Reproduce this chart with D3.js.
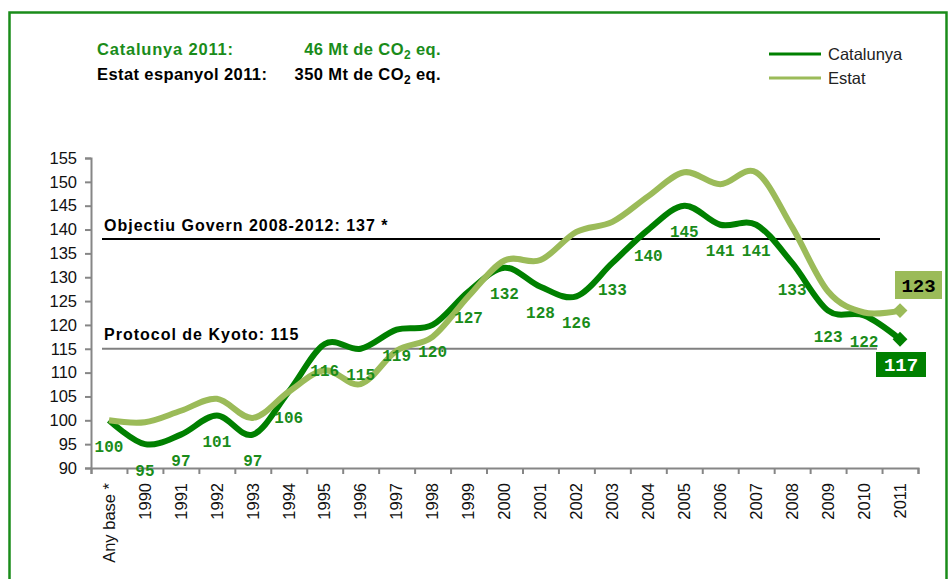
<!DOCTYPE html>
<html>
<head>
<meta charset="utf-8">
<script src="https://cdn.jsdelivr.net/npm/d3@7"></script>
<style>
  body { margin: 0; background: #fff; }
  text { font-family: "Liberation Sans", Arial, sans-serif; }
</style>
</head>
<body>
<div class="chart"></div>
<script>
// categories and series
var years = ["Any base *", "1990", "1991", "1992", "1993", "1994", "1995", "1996", "1997", "1998", "1999",
  "2000", "2001", "2002", "2003", "2004", "2005", "2006", "2007", "2008", "2009", "2010", "2011"];
var catalunya = [100, 95, 97, 101, 97, 106, 116, 115, 119, 120, 127, 132, 128, 126, 133, 140, 145, 141, 141, 133, 123, 122, 117];
var estat = [100, 99.6, 102, 104.5, 100.5, 106, 110.5, 107.6, 114.6, 117.5, 126, 133.5, 133.6, 139.5, 141.6, 147, 152, 149.5, 152, 140.5, 127, 122.6, 123];
var yTicks = [90, 95, 100, 105, 110, 115, 120, 125, 130, 135, 140, 145, 150, 155];
var objectiu = 138;
var kyoto = 115;

var svgWidth = 949;
var svgHeight = 579;

var svg = d3.select(".chart")
  .append("svg")
  .attr("width", svgWidth)
  .attr("height", svgHeight);

// green frame
svg.append("rect")
  .attr("x", 9.5).attr("y", 12.5)
  .attr("width", 937).attr("height", 600)
  .attr("fill", "none")
  .attr("stroke", "#1a8c1a")
  .attr("stroke-width", 2.5);

// scales
var x = d3.scaleBand().domain(years).range([91, 918]).padding(0);
var xIdx = d3.scaleLinear().domain([0, years.length]).range([91, 918]);
var y = d3.scaleLinear().domain([90, 155]).range([468, 158]);
var cx = function(d, i) { return x(years[i]) + x.bandwidth() / 2; };

// header text
var head = svg.append("g").style("font-weight", "bold").style("font-size", "16.5px").style("letter-spacing", "0.4px");
head.append("text").attr("x", 97).attr("y", 55).attr("fill", "#1a8c1a").style("letter-spacing", "0.8px").text("Catalunya 2011:");
var t1 = head.append("text").attr("x", 441).attr("y", 55).attr("fill", "#1a8c1a").attr("text-anchor", "end");
t1.append("tspan").text("46 Mt de CO");
t1.append("tspan").attr("dy", 4).style("font-size", "12px").text("2");
t1.append("tspan").attr("dy", -4).text(" eq.");
head.append("text").attr("x", 97).attr("y", 80).attr("fill", "#000").text("Estat espanyol 2011:");
var t2 = head.append("text").attr("x", 441).attr("y", 80).attr("fill", "#000").attr("text-anchor", "end");
t2.append("tspan").text("350 Mt de CO");
t2.append("tspan").attr("dy", 4).style("font-size", "12px").text("2");
t2.append("tspan").attr("dy", -4).text(" eq.");

// legend
var legend = [{name: "Catalunya", color: "#008000"}, {name: "Estat", color: "#9bbb59"}];
legend.forEach(function(l, i) {
  svg.append("line")
    .attr("x1", 769).attr("x2", 821)
    .attr("y1", 54 + i * 24).attr("y2", 54 + i * 24)
    .attr("stroke", l.color).attr("stroke-width", 3);
  svg.append("text")
    .attr("x", 828).attr("y", 60 + i * 24)
    .style("font-size", "16.5px").attr("fill", "#222")
    .text(l.name);
});

// axes
var leftAxis = d3.axisLeft(y).tickValues(yTicks).tickSize(6).tickPadding(8);
var yAxis = svg.append("g").attr("transform", "translate(91,0)").call(leftAxis);
yAxis.selectAll("text").style("font-size", "16.5px").attr("fill", "#111")
  .style("font-family", "'Liberation Sans', Arial, sans-serif");

var tickAxis = d3.axisBottom(xIdx).tickValues(d3.range(years.length + 1)).tickSize(6).tickFormat("");
var xAxis = svg.append("g").attr("transform", "translate(0,468)").call(tickAxis);

var labelAxis = d3.axisBottom(x).tickSize(0).tickPadding(0);
var xLab = svg.append("g").attr("transform", "translate(0,468)").call(labelAxis);
xLab.select(".domain").remove();
xLab.selectAll("text")
  .attr("transform", "rotate(-90)")
  .attr("x", -15).attr("y", 0).attr("dy", "0.35em")
  .style("text-anchor", "end")
  .style("font-size", "16.5px")
  .style("font-family", "'Liberation Sans', Arial, sans-serif")
  .attr("fill", "#111");

[yAxis, xAxis].forEach(function(a) {
  a.selectAll(".domain, .tick line").attr("stroke", "#868686").attr("stroke-width", 2);
});

// reference lines
svg.append("line").attr("x1", 102).attr("x2", 880)
  .attr("y1", y(objectiu)).attr("y2", y(objectiu))
  .attr("stroke", "#000").attr("stroke-width", 2);
svg.append("text").attr("x", 104).attr("y", y(objectiu) - 8)
  .style("font-size", "16px").style("font-weight", "bold").style("letter-spacing", "1px")
  .text("Objectiu Govern 2008-2012: 137 *");
svg.append("line").attr("x1", 102).attr("x2", 877)
  .attr("y1", y(kyoto)).attr("y2", y(kyoto))
  .attr("stroke", "#808080").attr("stroke-width", 2);
svg.append("text").attr("x", 104).attr("y", y(kyoto) - 9)
  .style("font-size", "16px").style("font-weight", "bold").style("letter-spacing", "1px")
  .text("Protocol de Kyoto: 115");

// lines
var line = d3.line()
  .x(cx)
  .y(function(d) { return y(d); })
  .curve(d3.curveCardinal.tension(0));

svg.append("path").datum(catalunya)
  .attr("d", line).attr("fill", "none")
  .attr("stroke", "#008000").attr("stroke-width", 6).attr("stroke-linejoin", "round");
svg.append("path").datum(estat)
  .attr("d", line).attr("fill", "none")
  .attr("stroke", "#9bbb59").attr("stroke-width", 6).attr("stroke-linejoin", "round");

// end markers
var last = years.length - 1;
[[catalunya, "#008000"], [estat, "#9bbb59"]].forEach(function(s) {
  svg.append("path")
    .attr("d", d3.symbol().type(d3.symbolSquare).size(110))
    .attr("transform", "translate(" + cx(null, last) + "," + y(s[0][last]) + ") rotate(45)")
    .attr("fill", s[1]);
});

// data labels (Catalunya)
svg.append("g").selectAll("text")
  .data(catalunya.slice(0, last))
  .enter()
  .append("text")
  .attr("x", cx)
  .attr("y", function(d) { return y(d) + 26; })
  .attr("dy", "0.35em")
  .attr("text-anchor", "middle")
  .style("font-family", "'Liberation Mono', 'Courier New', monospace")
  .style("font-weight", "bold")
  .style("font-size", "16px")
  .attr("fill", "#1a8c1a")
  .text(function(d) { return d; });

// end value boxes
var boxes = [
  {v: estat[last], x: 895, y: 271, w: 47, h: 28, fill: "#9bbb59", color: "#000"},
  {v: catalunya[last], x: 876, y: 352, w: 50, h: 25, fill: "#008000", color: "#fff"}
];
boxes.forEach(function(b) {
  svg.append("rect").attr("x", b.x).attr("y", b.y).attr("width", b.w).attr("height", b.h).attr("fill", b.fill);
  svg.append("text")
    .attr("x", b.x + b.w / 2).attr("y", b.y + b.h / 2).attr("dy", "0.35em")
    .attr("text-anchor", "middle")
    .style("font-family", "'Liberation Mono', 'Courier New', monospace")
    .style("font-weight", "bold").style("font-size", "19px")
    .attr("fill", b.color)
    .text(Math.round(b.v));
});
</script>
</body>
</html>
